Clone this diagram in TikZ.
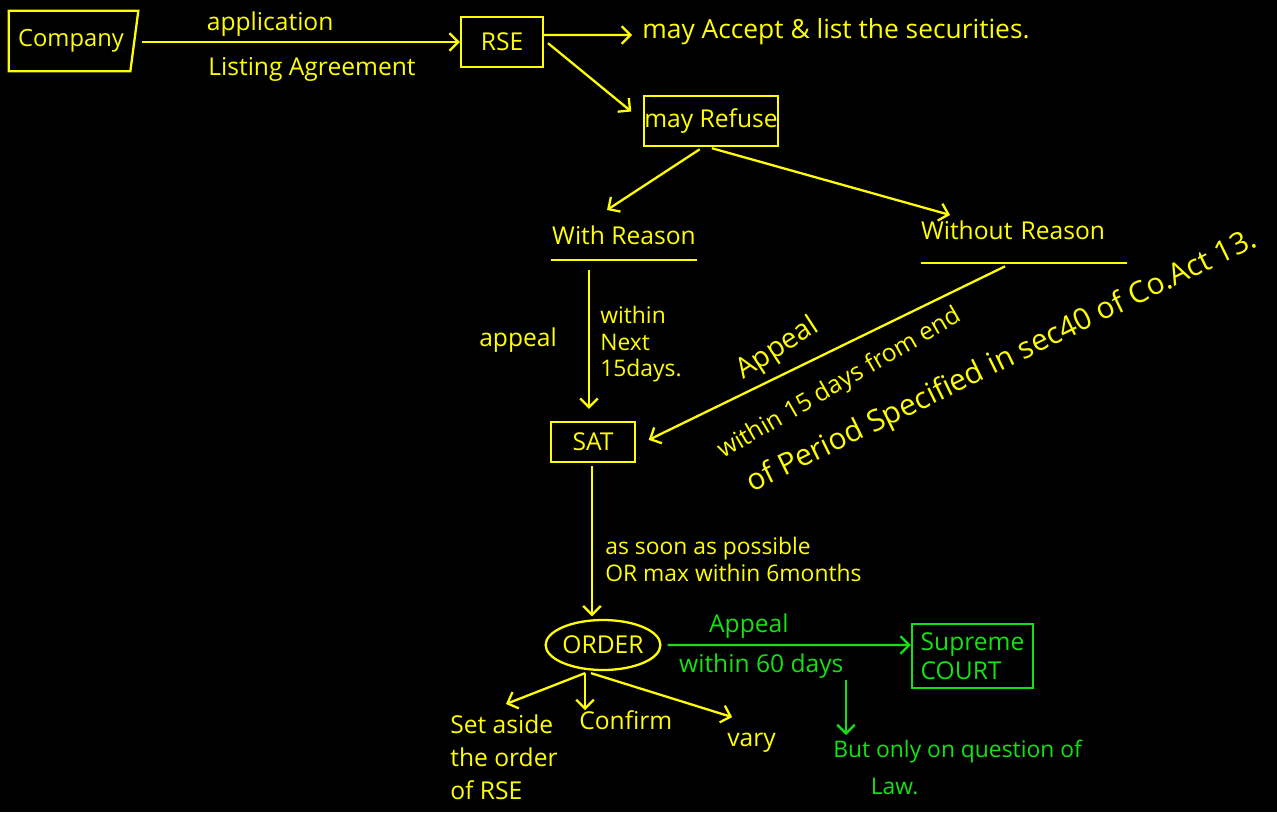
\documentclass[tikz,border=0pt]{standalone}
\usepackage{fontspec}
\setmainfont{Open Sans}
\usetikzlibrary{arrows.meta,shapes.geometric}
\definecolor{ink}{RGB}{255,255,0}
\definecolor{gink}{RGB}{20,225,20}
\begin{document}
\begin{tikzpicture}[x=0.02cm,y=-0.02cm,
  every node/.style={text=ink, font=\fontsize{14}{18}\selectfont},
  line/.style={draw=ink, line width=1.3pt},
  arr/.style={line, -{Straight Barb[length=5pt,width=10pt]}},
  garr/.style={arr, draw=gink},
  box/.style={line, inner sep=0pt},
  gbox/.style={box, draw=gink, text=gink},
  glabel/.style={text=gink},
  plain/.style={inner sep=0pt},
  underlined/.style={inner sep=0pt, anchor=base, minimum width=#1}
]
% canvas
\fill[black] (0,0) rectangle (1277,812);
\useasboundingbox (0,0) rectangle (1277,812);

% ---- top row ----
\node[inner sep=0pt, minimum width=2.58cm, minimum height=1.2cm,
      font=\fontsize{13.5}{16}\selectfont] (company) at (73.5,41) {Company\hspace*{0.1cm}};
\draw[line] (company.north west) -- (company.north east)
   -- ([xshift=-0.16cm]company.south east) -- (company.south west) -- cycle;

\node[box, minimum width=1.64cm, minimum height=1.0cm] (rse) at (502,42) {RSE};
\draw[arr, shorten <=0.08cm] ([yshift=-0.02cm]company.east) -- ([yshift=-0.02cm]company.east -| rse.west)
  node[pos=0.41, above=-1pt] (app) {application}
  node[pos=0.54, below=5pt] (lst) {Listing Agreement};

\node[plain, anchor=west, font=\fontsize{15}{18}\selectfont] (accept) at (642,32)
  {may Accept \& list the securities.};
\draw[arr, shorten >=0.2cm] ([yshift=0.14cm]rse.east) -- (accept.west |- 0,35);

\node[box, minimum width=2.68cm, minimum height=1.0cm] (refuse) at (711,121) {may Refuse};
\draw[arr, shorten <=0.1cm, shorten >=0.3cm] ([yshift=0.04cm]rse.east) -- (refuse.west);

% ---- the two branches (text over an underline) ----
\node[underlined=2.92cm, text depth=0.32cm] (with) at (624,244) {With Reason};
\draw[line] (with.south west) -- (with.south east);
\node[underlined=4.12cm, text depth=0.48cm, text width=4.12cm, align=left] (without) at (1024,239) {Without Reason};
\draw[line] (without.south west) -- (without.south east);

\draw[arr, shorten <=0.08cm] ([xshift=-0.16cm]refuse.south)
   -- ([xshift=-0.34cm,yshift=0.3cm]with.north);
\draw[arr, shorten <=0.08cm] ([xshift=-0.06cm]refuse.south)
   -- ([xshift=-1.48cm,yshift=0.1cm]without.north);

% ---- SAT ----
\node[box, minimum width=1.68cm, minimum height=0.8cm] (sat) at (593,442) {SAT};
\draw[arr, shorten >=0.24cm] ([xshift=-0.7cm,yshift=-0.2cm]with.south)
   -- ([xshift=-0.7cm]with.south |- sat.north);
\node[anchor=east] (appeal1) at (563,340) {appeal};
\node[plain, anchor=north west, align=left,
      font=\fontsize{13}{15}\selectfont] (next15) at (600,306) {within\\Next\\15days.};

\draw[arr, shorten >=0.28cm] ([xshift=-0.38cm,yshift=-0.06cm]without.south)
   -- ([yshift=-0.08cm]sat.east);
\node[rotate=33, font=\fontsize{16}{18}\selectfont] (appeal2) at (778,349) {Appeal};
\node[rotate=30, font=\fontsize{14}{18}\selectfont] (within15) at (840,384) {within 15 days from end};
\node[rotate=26, font=\fontsize{17}{20}\selectfont] (period) at (1002,362)
  {of Period Specified in sec40 of Co.Act 13.};

% ---- ORDER ----
\node[ellipse, line, inner sep=0pt, minimum width=2.16cm, minimum height=1.0cm] (order) at (603,645) {ORDER};
\draw[arr, shorten <=0.06cm, shorten >=0.05cm] ([xshift=-0.02cm]sat.south)
   -- ([xshift=-0.02cm]sat.south |- order.north);
\node[plain, anchor=north west, align=left,
      font=\fontsize{13}{15}\selectfont] (soon) at (605,537) {as soon as possible\\OR max within 6months};

\node[gbox, minimum width=2.42cm, minimum height=1.28cm, align=left,
      font=\fontsize{14}{16.5}\selectfont] (sc) at (972.5,656) {Supreme\\COURT};
\draw[garr, shorten <=0.12cm] (order.east) -- ([yshift=0.22cm]sc.west)
  node[pos=0.35, above=0pt, glabel] (app3) {Appeal}
  node[pos=0.4, below=1pt, glabel] (win60) {within 60 days};

\node[plain, anchor=north west, align=left, glabel,
      font=\fontsize{13}{21}\selectfont] (law) at (833,740) {But only on question of\\\hspace*{0.75cm}Law.};
\coordinate (q) at (846,680);
\draw[garr, shorten >=0.1cm] (q) -- (q |- law.north);

% ---- outcomes ----
\node[plain, anchor=north west, align=left,
      font=\fontsize{14}{19}\selectfont] (setaside) at (450,714) {Set aside\\the order\\of RSE};
\node[plain, anchor=west] (confirm) at (579,720) {Confirm};
\node[plain, anchor=north west] (vary) at (727,733) {vary};

\draw[arr] ([xshift=-0.36cm,yshift=-0.04cm]order.south) -- ([xshift=-1.04cm,yshift=0.2cm]setaside.north east);
\draw[arr] ([xshift=-0.36cm,yshift=-0.04cm]order.south) -- ([xshift=-0.36cm]order.south |- confirm.north);
\draw[arr, shorten >=0.06cm] ([xshift=-0.24cm,yshift=-0.04cm]order.south) -- ([xshift=0.16cm,yshift=0.3cm]vary.north west);
\end{tikzpicture}
\end{document}
